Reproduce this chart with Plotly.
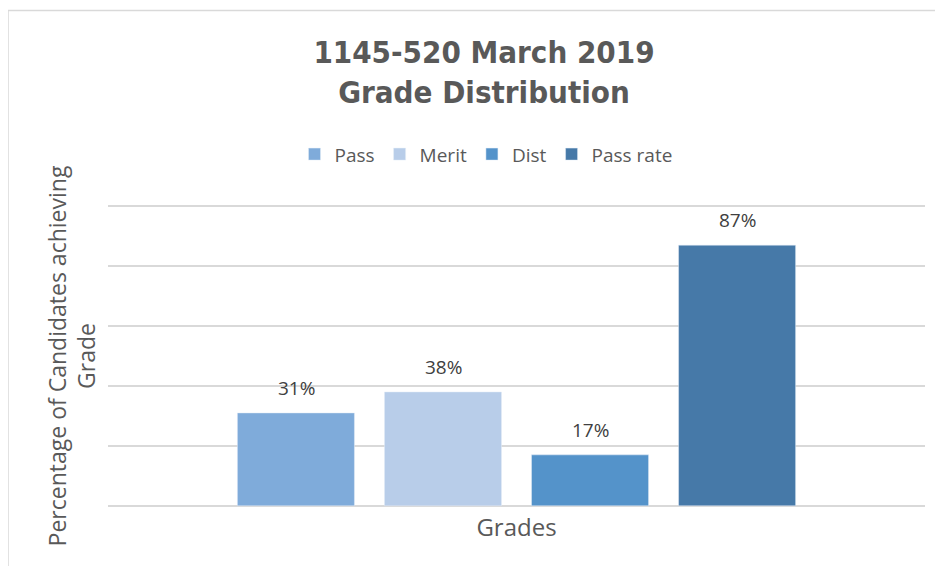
import plotly.graph_objects as go

categories = [""]
series_names = ["Pass", "Merit", "Dist", "Pass rate"]
series_values = [31, 38, 17, 87]
series_colors = ["#7FABDA", "#B8CDE9", "#5493CA", "#4679A8"]

# the page body adds an 8px offset, so the figure is sized/placed accordingly
OFF = 8
W, H = 943 - OFF, 566 - OFF
PAD = 0.4  # small range padding so the 0 and 100 gridlines are drawn
L = 108 - OFF
R = W - (925 - OFF)
T = 206 - OFF - 3 * PAD
B = H - (506 - OFF) - 3 * PAD
pw, ph = W - L - R, H - T - B
SLOT = 147  # px width of one bar slot within the group

def px_x(x):
    return (x - OFF - L) / pw

def px_y(y):
    return (H - B - (y - OFF)) / ph

fig = go.Figure()
for name, val, col in zip(series_names, series_values, series_colors):
    fig.add_trace(go.Bar(
        name=name, x=categories, y=[val], marker_color=col,
    ))

n = len(series_values)
for i, val in enumerate(series_values):
    fig.add_annotation(
        x=0, y=val, xref="x", yref="y", text=f"{val}%", showarrow=False,
        xshift=(i - (n - 1) / 2) * SLOT, yanchor="bottom", yshift=10,
        font=dict(family="Open Sans, sans-serif", size=19, color="#404040"),
    )

fig.update_layout(
    width=W, height=H,
    margin=dict(l=L, r=R, t=T, b=B, autoexpand=False),
    paper_bgcolor="white", plot_bgcolor="white",
    font=dict(family="Open Sans, sans-serif", color="#595959"),
    barmode="group", bargap=0.28, bargroupgap=0.204,
    title=dict(
        text="1145-520 March 2019<br>Grade Distribution",
        x=(484 - OFF) / W, xanchor="center", xref="container",
        y=1 - (63 - OFF) / H, yanchor="middle", yref="container",
        font=dict(family="DejaVu Sans Condensed, sans-serif", size=31, color="#595959", weight="bold"),
    ),
    legend=dict(
        orientation="h", x=px_x(486), xanchor="center", y=px_y(154), yanchor="middle",
        font=dict(size=19, color="#595959"), traceorder="normal",
    ),
    showlegend=True,
    xaxis=dict(
        showticklabels=False, showgrid=False, zeroline=False, showline=False,
        automargin=False,
        title=dict(text="Grades", font=dict(size=24, color="#595959"), standoff=12),
    ),
    yaxis=dict(
        range=[-PAD, 100 + PAD], tick0=0, dtick=20, showticklabels=False, showgrid=True,
        gridcolor="#D9D9D9", gridwidth=1.5, zeroline=False, showline=False,
        ticks="", automargin=False,
        title=dict(text="Percentage of Candidates achieving<br>Grade",
                   font=dict(size=23, color="#595959"), standoff=4),
    ),
)

# chart-area border (left and top edges)
fig.add_shape(type="line", xref="paper", yref="paper",
              x0=px_x(8), x1=px_x(8), y0=px_y(10), y1=px_y(600),
              line=dict(color="#D9D9D9", width=1.5))
fig.add_shape(type="line", xref="paper", yref="paper",
              x0=px_x(8), x1=px_x(1000), y0=px_y(10), y1=px_y(10),
              line=dict(color="#D9D9D9", width=1.5))

fig.write_html("out.html")
